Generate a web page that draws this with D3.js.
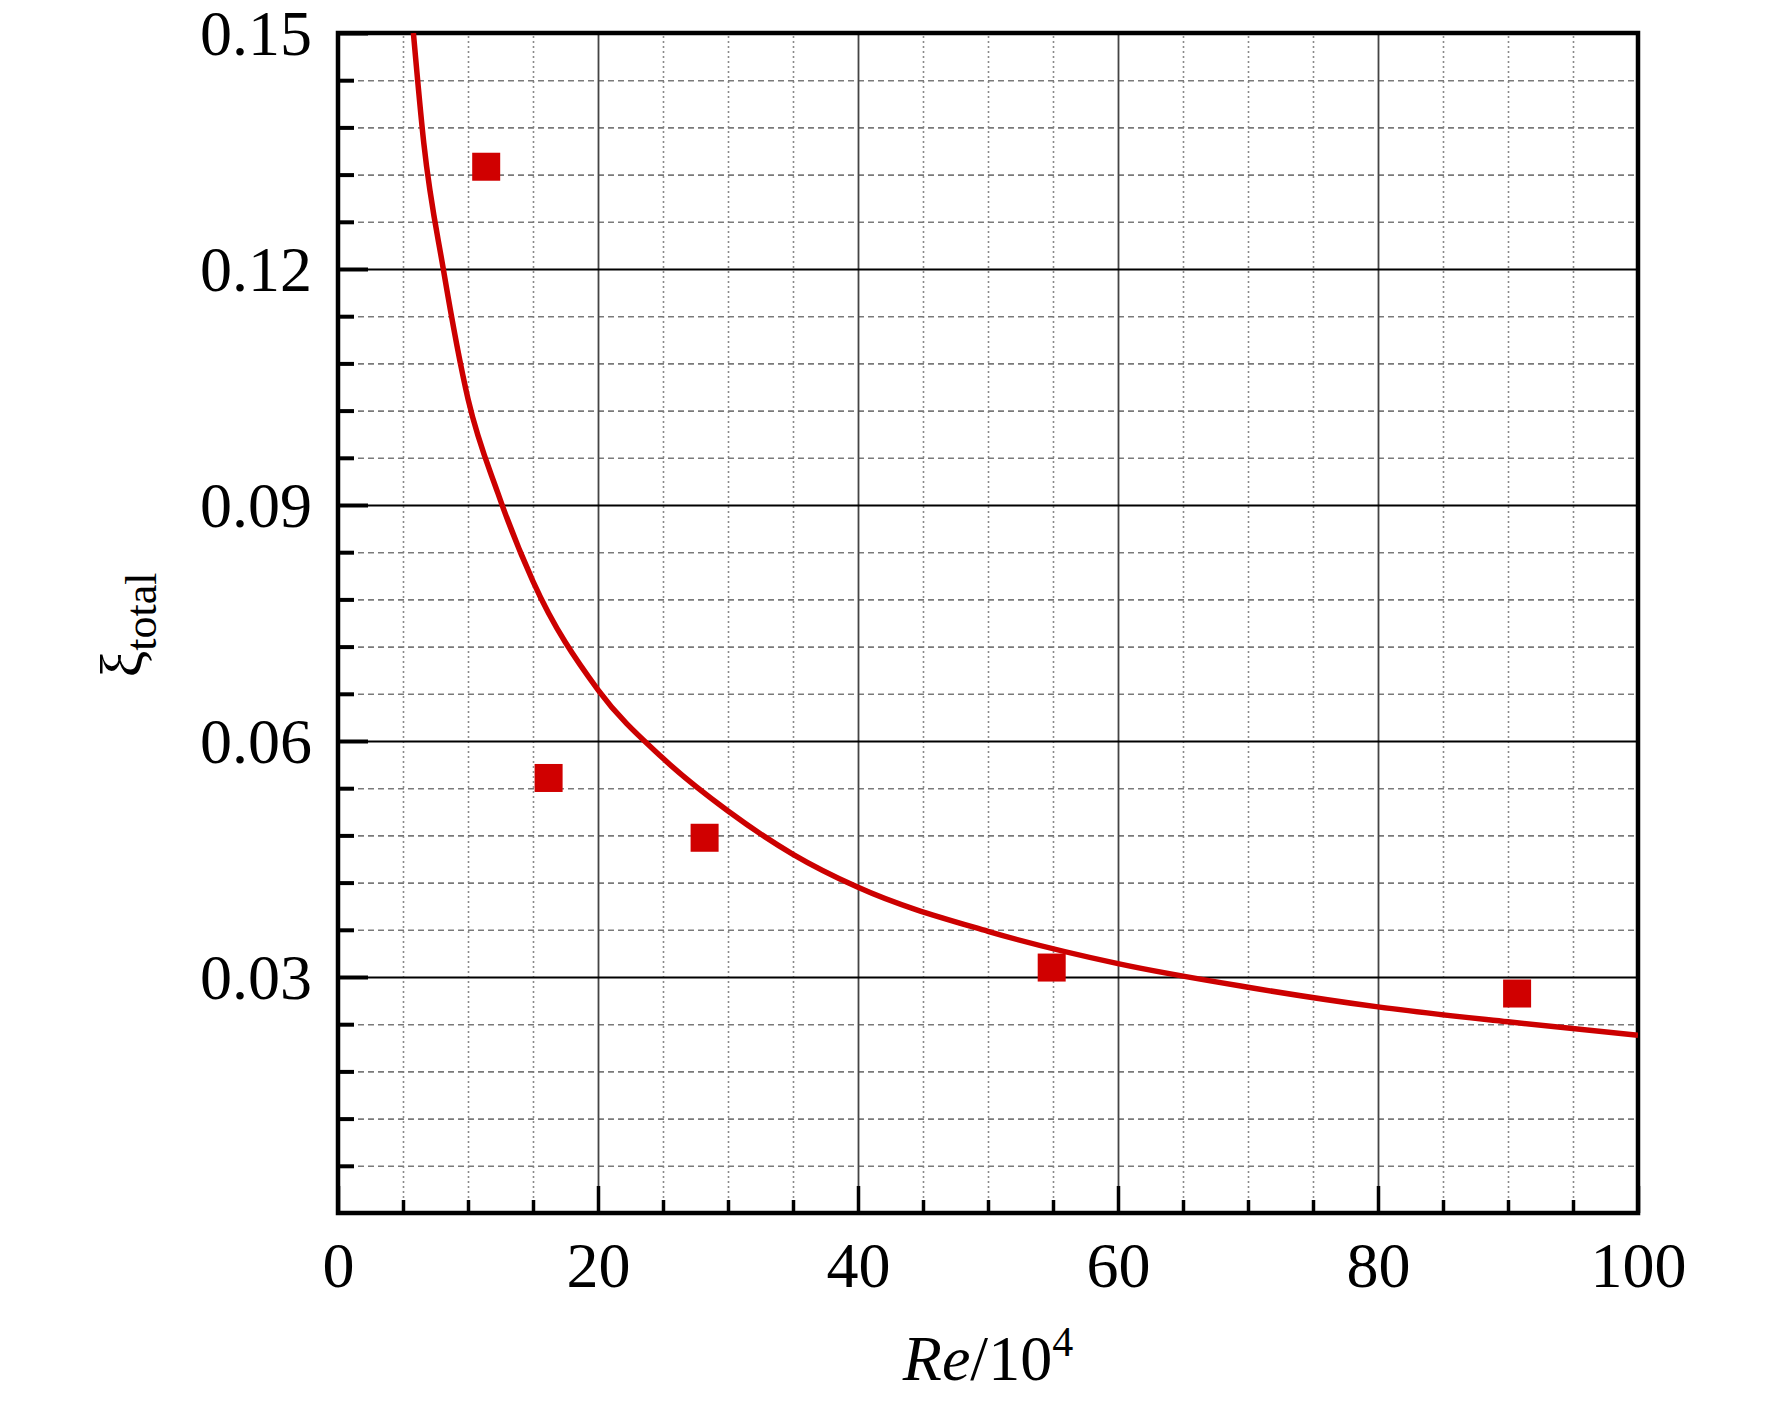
<!DOCTYPE html>
<html>
<head>
<meta charset="utf-8">
<script src="https://cdn.jsdelivr.net/npm/d3@7"></script>
<style>
  html, body { margin: 0; padding: 0; background: #fff; }
  text { font-family: "Liberation Serif", "Times New Roman", serif; fill: #000; }
</style>
</head>
<body>
<div id="chart"></div>
<script>
// data
const pointRe = [11.4, 16.2, 28.2, 54.9, 90.7];
const pointXi = [0.133, 0.0553, 0.0477, 0.0312, 0.0279];

const curveRe = [5.8, 6.6, 8.1, 10, 12.3, 15, 20, 25, 30, 35, 40, 50, 60, 70, 80, 90, 100];
const curveXi = [0.150, 0.136, 0.120, 0.1035, 0.0915, 0.0803, 0.0665, 0.0578, 0.0511, 0.0456, 0.0414, 0.0358, 0.0317, 0.0287, 0.0262, 0.0243, 0.0226];

const xMajorTicks = [0, 20, 40, 60, 80, 100];
const xMinorTicks = d3.range(5, 100, 5).filter(v => v % 20 !== 0);
const yMajorTicks = [0.03, 0.06, 0.09, 0.12, 0.15];
const yMinorTicks = d3.range(1, 25).map(i => i * 0.006).filter((v, i) => (i + 1) % 5 !== 0);

const width = 1772, height = 1401;
const margin = { left: 338, right: 134, top: 33, bottom: 188 };
const w = width - margin.left - margin.right;
const h = height - margin.top - margin.bottom;

const svg = d3.select("#chart").append("svg")
    .attr("width", width)
    .attr("height", height);

const g = svg.append("g")
    .attr("transform", `translate(${margin.left},${margin.top})`);

const x = d3.scaleLinear().domain([0, 100]).range([0, w]);
const y = d3.scaleLinear().domain([0, 0.15]).range([h, 0]);

// minor grid
g.append("g")
    .attr("transform", `translate(0,${h})`)
    .call(d3.axisBottom(x).tickValues(xMinorTicks).tickSize(-h).tickFormat(""))
    .call(a => a.select(".domain").remove())
    .selectAll("line")
    .attr("stroke", "#8a8a8a")
    .attr("stroke-width", 1.6)
    .attr("stroke-dasharray", "2,3");

g.append("g")
    .call(d3.axisLeft(y).tickValues(yMinorTicks).tickSize(-w).tickFormat(""))
    .call(a => a.select(".domain").remove())
    .selectAll("line")
    .attr("stroke", "#7a7a7a")
    .attr("stroke-width", 1.6)
    .attr("stroke-dasharray", "6,4");

// major grid
g.append("g")
    .attr("transform", `translate(0,${h})`)
    .call(d3.axisBottom(x).tickValues([20, 40, 60, 80]).tickSize(-h).tickFormat(""))
    .call(a => a.select(".domain").remove())
    .selectAll("line")
    .attr("stroke", "#444")
    .attr("stroke-width", 1.8);

g.append("g")
    .call(d3.axisLeft(y).tickValues([0.03, 0.06, 0.09, 0.12]).tickSize(-w).tickFormat(""))
    .call(a => a.select(".domain").remove())
    .selectAll("line")
    .attr("stroke", "#000")
    .attr("stroke-width", 2);

// ticks (inside)
g.append("g")
    .attr("transform", `translate(0,${h})`)
    .call(d3.axisBottom(x).tickValues(xMinorTicks).tickSize(-13).tickFormat(""))
    .call(a => a.select(".domain").remove())
    .selectAll("line").attr("stroke", "#000").attr("stroke-width", 3.5);

const xAxis = g.append("g")
    .attr("transform", `translate(0,${h})`)
    .call(d3.axisBottom(x).tickValues(xMajorTicks).tickSize(-27).tickPadding(50).tickFormat(d3.format("d")))
    .call(a => a.select(".domain").remove());
xAxis.selectAll("line").attr("stroke", "#000").attr("stroke-width", 3.5);
xAxis.selectAll("text")
    .attr("font-size", 64)
    .attr("y", 74)
    .attr("dy", 0);

g.append("g")
    .call(d3.axisLeft(y).tickValues(yMinorTicks).tickSize(-16).tickFormat(""))
    .call(a => a.select(".domain").remove())
    .selectAll("line").attr("stroke", "#000").attr("stroke-width", 4);

const yAxis = g.append("g")
    .call(d3.axisLeft(y).tickValues(yMajorTicks).tickSize(-30).tickPadding(26).tickFormat(d3.format(".2f")))
    .call(a => a.select(".domain").remove());
yAxis.selectAll("line").attr("stroke", "#000").attr("stroke-width", 4);
yAxis.selectAll("text")
    .attr("font-size", 64)
    .attr("dy", "0.33em");

// frame
g.append("rect")
    .attr("width", w)
    .attr("height", h)
    .attr("fill", "none")
    .attr("stroke", "#000")
    .attr("stroke-width", 4.5);

// fitted curve
const clip = g.append("clipPath").attr("id", "clip")
    .append("rect").attr("width", w).attr("height", h);

const line = d3.line()
    .x((d, i) => x(curveRe[i]))
    .y((d, i) => y(curveXi[i]))
    .curve(d3.curveMonotoneX);

g.append("path")
    .datum(curveRe)
    .attr("clip-path", "url(#clip)")
    .attr("d", line)
    .attr("fill", "none")
    .attr("stroke", "#cc0000")
    .attr("stroke-width", 5.5);

// measured points
const sq = 28;
g.selectAll("rect.pt")
    .data(pointRe)
    .enter().append("rect")
    .attr("class", "pt")
    .attr("x", (d, i) => x(d) - sq / 2)
    .attr("y", (d, i) => y(pointXi[i]) - sq / 2)
    .attr("width", sq)
    .attr("height", sq)
    .attr("fill", "#d00000");

// axis titles
const xt = svg.append("text")
    .attr("x", margin.left + w / 2)
    .attr("y", 1380)
    .attr("text-anchor", "middle")
    .attr("font-size", 64);
xt.append("tspan").attr("font-style", "italic").text("Re");
xt.append("tspan").text("/10");
xt.append("tspan").attr("font-size", 42).attr("dy", -24).text("4");

const yt = svg.append("text")
    .attr("transform", `translate(142,625) rotate(-90)`)
    .attr("text-anchor", "middle")
    .attr("font-size", 60);
yt.append("tspan").text("ξ");
yt.append("tspan").attr("font-size", 44).attr("dy", 14).text("total");
</script>
</body>
</html>
